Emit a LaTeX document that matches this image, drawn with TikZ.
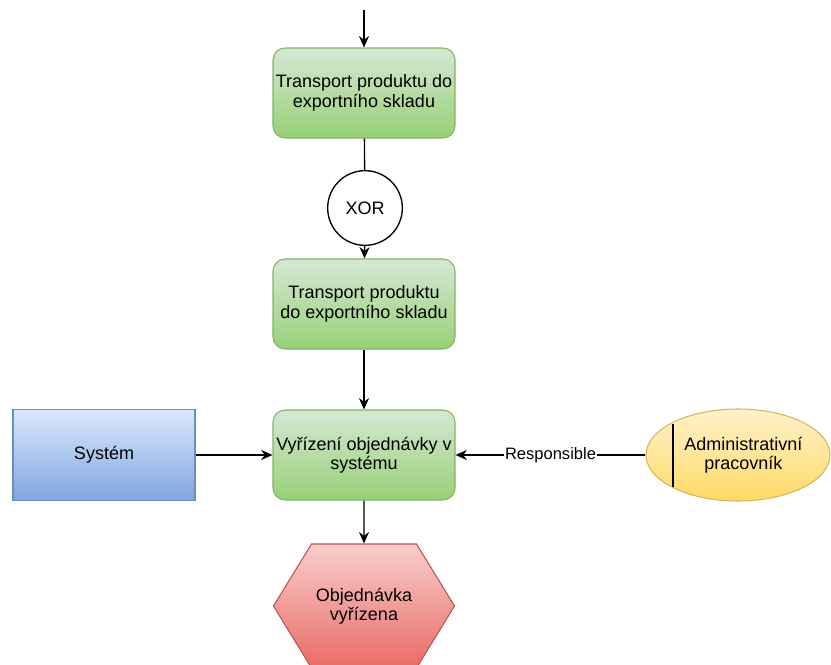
\documentclass[tikz,border=0pt]{standalone}
\usepackage{fontspec}
\setmainfont{Liberation Sans}
\usepackage{tikz}
\usetikzlibrary{arrows.meta,positioning,shapes.geometric,shapes.symbols}

\begin{document}
\begin{tikzpicture}[x=0.75pt,y=-0.75pt,>={Stealth[length=8.5pt,width=7.5pt]},
    every node/.style={font=\fontsize{13.5pt}{14.5pt}\selectfont,align=center},
    flow/.style={line width=1pt},
    task/.style={rectangle,rounded corners=9pt,draw=gS,top color=gT,bottom color=gB,
      line width=0.8pt,minimum width=136.5pt,minimum height=67.5pt,inner sep=0pt},
    sysbox/.style={rectangle,draw=bS,top color=bT,bottom color=bB,
      line width=0.8pt,minimum width=136.5pt,minimum height=68pt,inner sep=0pt},
    gate/.style={circle,draw=black,fill=white,line width=1pt,minimum size=56pt,inner sep=0pt},
    actor/.style={ellipse,draw=yS,top color=yT,bottom color=yB,
      line width=0.8pt,minimum width=138pt,minimum height=69pt,inner sep=0pt},
    event/.style={signal,signal to=west and east,signal pointer angle=117,draw=rS,
      top color=rT,bottom color=rB,line width=0.8pt,minimum width=135.75pt,
      minimum height=93pt,inner sep=0pt}]
    \definecolor{gT}{HTML}{D5E8D4}\definecolor{gB}{HTML}{97D077}\definecolor{gS}{HTML}{82B366}
    \definecolor{bT}{HTML}{DAE8FC}\definecolor{bB}{HTML}{7EA6E0}\definecolor{bS}{HTML}{6C8EBF}
    \definecolor{yT}{HTML}{FFF2CC}\definecolor{yB}{HTML}{FFD966}\definecolor{yS}{HTML}{D6B656}
    \definecolor{rT}{HTML}{F8CECC}\definecolor{rB}{HTML}{EA6B66}\definecolor{rS}{HTML}{B85450}
    \useasboundingbox (0,0) rectangle (831,664);
    \begin{scope}
    \clip (0,0) rectangle (831,664);
    % process chain
    \coordinate (in) at (364,10);
    \node[task] (trans1) at (364,93) {Transport produktu do\\exportního skladu};
    \node[gate] (xor) at (365,208) {XOR};
    \node[task] (trans2) at (364,304) {Transport produktu\\do exportního skladu};
    \node[task] (order) at (364,455) {Vyřízení objednávky v\\systému};
    \node[event] (done) at (364,606) {Objednávka\\vyřízena};
    % side elements
    \node[sysbox] (sys) at (104,455) {Systém};
    \node[actor] (admin) at (738,455) {\hspace*{8pt}Administrativní\\\hspace*{8pt}pracovník};
    \draw[line width=1pt] (673,424) -- (673,487);
    % connectors
    \draw[flow,->] (in) -- (trans1);
    \draw[flow] (trans1) -- (xor);
    \draw[flow,->] (xor) -- (trans2);
    \draw[flow,->] (trans2) -- (order);
    \draw[flow,->] (order) -- (done);
    \draw[flow,->] (sys) -- (order);
    \draw[flow,->] (admin) -- node[fill=white,inner sep=1pt,font=\fontsize{12.4pt}{13pt}\selectfont]{Responsible} (order);
    \end{scope}
\end{tikzpicture}
\end{document}
